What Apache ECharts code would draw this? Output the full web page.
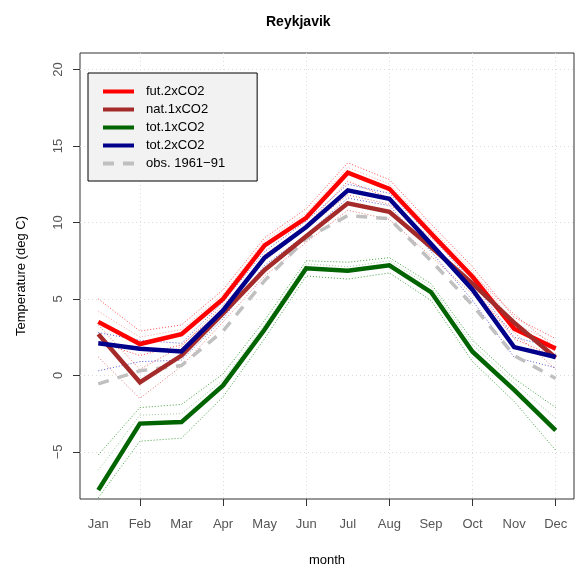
<!DOCTYPE html>
<html>
<head>
<meta charset="utf-8">
<script src="https://cdn.jsdelivr.net/npm/echarts@6/dist/echarts.min.js"></script>
<style>html,body{margin:0;padding:0;background:#fff}#c{width:575px;height:572px}</style>
</head>
<body>
<div id="c"></div>
<script>
var months = ['Jan','Feb','Mar','Apr','May','Jun','Jul','Aug','Sep','Oct','Nov','Dec'];
var yTicks = [-5, 0, 5, 10, 15, 20];
var xTickMonths = [2, 4, 6, 8, 10, 12];

// main series
var fut2xCO2 = [3.5, 2.05, 2.7, 5.0, 8.5, 10.3, 13.25, 12.2, 9.3, 6.45, 3.05, 1.75];
var nat1xCO2 = [2.7, -0.45, 1.3, 4.05, 6.9, 9.1, 11.25, 10.7, 8.4, 6.0, 3.45, 1.15];
var tot1xCO2 = [-7.5, -3.15, -3.05, -0.65, 3.0, 7.0, 6.85, 7.2, 5.45, 1.55, -0.95, -3.6];
var tot2xCO2 = [2.1, 1.75, 1.57, 4.25, 7.7, 9.7, 12.1, 11.55, 8.6, 5.6, 1.85, 1.2];
var obs196191 = [-0.55, 0.3, 0.65, 2.9, 6.2, 8.95, 10.45, 10.25, 7.5, 4.6, 1.3, -0.2];

// ensemble members (dotted)
var futUpper = [5.0, 2.9, 3.3, 5.6, 9.0, 10.9, 13.9, 12.8, 9.9, 7.1, 3.8, 2.4];
var futMid = [4.2, 2.5, 3.0, 5.3, 8.8, 10.6, 13.6, 12.5, 9.6, 6.8, 3.4, 2.1];
var futLower = [2.2, 1.3, 2.0, 4.3, 7.9, 9.8, 12.7, 11.6, 8.6, 5.8, 2.4, 1.2];
var natUpper = [3.3, 0.4, 1.9, 4.6, 7.5, 9.6, 11.8, 11.2, 9.0, 6.6, 4.0, 1.8];
var natLower = [1.2, -1.5, 0.6, 3.5, 6.5, 8.7, 10.8, 10.2, 7.8, 5.3, 2.8, 0.4];
var tot1Upper = [-5.2, -2.1, -1.9, 0.1, 3.6, 7.5, 7.4, 7.7, 6.0, 2.3, -0.2, -2.1];
var tot1Mid = [-6.2, -2.6, -2.5, -0.3, 3.3, 7.3, 7.1, 7.5, 5.8, 2.0, -0.5, -2.8];
var tot1Lower = [-8.0, -4.3, -4.1, -1.4, 2.4, 6.5, 6.3, 6.7, 4.9, 0.9, -1.7, -4.9];
var tot2Upper = [2.8, 2.3, 2.1, 4.8, 8.1, 10.1, 12.5, 11.9, 9.1, 6.1, 2.5, 1.8];
var tot2Lower = [0.3, 0.9, 1.0, 3.7, 7.2, 9.2, 11.6, 11.1, 8.1, 4.9, 1.2, 0.5];

function pts(arr) { return arr.map(function (v, i) { return [i + 1, v]; }); }
function minus(v) { return String(v).replace('-', '\u2212'); }

function member(arr, color) {
  return {
    type: 'line', data: pts(arr), symbol: 'none', silent: true,
    lineStyle: { width: 1, type: [1, 2], color: color }, z: 2
  };
}
function main(name, arr, color, extra) {
  var ls = { width: 4.5, color: color, cap: 'butt', join: 'miter' };
  if (extra) for (var k in extra) ls[k] = extra[k];
  return { type: 'line', name: name, data: pts(arr), symbol: 'none', lineStyle: ls, itemStyle: { color: color }, z: 5 };
}

var chart = echarts.init(document.getElementById('c'), null, { renderer: 'canvas' });
chart.setOption({
  animation: false,
  backgroundColor: '#ffffff',
  textStyle: { fontFamily: 'Liberation Sans, Arial, sans-serif' },
  title: {
    text: 'Reykjavik', left: 261, top: 10,
    textStyle: { fontSize: 14, fontWeight: 'bold', color: '#000', fontFamily: 'Liberation Sans, Arial, sans-serif' }
  },
  grid: { left: 80, right: 1, top: 53, bottom: 73, show: true, borderColor: '#333', borderWidth: 1, backgroundColor: 'transparent' },
  legend: {
    orient: 'vertical', left: 88, top: 73,
    data: ['fut.2xCO2', 'nat.1xCO2', 'tot.1xCO2', 'tot.2xCO2', 'obs. 1961\u221291'],
    backgroundColor: '#f2f2f2', borderColor: '#000', borderWidth: 1, borderRadius: 0,
    padding: [11, 32, 10, 13],
    itemWidth: 31, itemHeight: 14, itemGap: 3,
    itemStyle: { opacity: 0 },
    lineStyle: { width: 4 },
    textStyle: { fontSize: 13, color: '#000', padding: [0, 0, 0, 7], lineHeight: 15, fontFamily: 'Liberation Sans, Arial, sans-serif' }
  },
  xAxis: {
    type: 'value', min: 0.56, max: 12.44,
    name: 'month', nameLocation: 'middle', nameGap: 55,
    nameTextStyle: { fontSize: 13, color: '#000' },
    axisLine: { show: false, onZero: false },
    axisTick: { show: true, length: 7, inside: false, customValues: xTickMonths, lineStyle: { color: '#333' } },
    axisLabel: {
      customValues: months.map(function (m, i) { return i + 1; }),
      formatter: function (v) { return months[Math.round(v) - 1] || ''; },
      fontSize: 13, color: '#555', margin: 19
    },
    splitLine: { show: true, lineStyle: { color: '#dcdcdc', type: [1, 3], width: 1 } }
  },
  yAxis: {
    type: 'value', min: -8.08, max: 21.08,
    name: 'Temperature (deg C)', nameLocation: 'middle', nameGap: 52, nameRotate: 90,
    nameTextStyle: { fontSize: 13, color: '#000' },
    axisLine: { show: false, onZero: false },
    axisTick: { show: true, length: 7, customValues: yTicks, lineStyle: { color: '#333' } },
    axisLabel: { customValues: yTicks, rotate: 90, formatter: minus, fontSize: 13, color: '#555', margin: 15 },
    splitLine: { show: true, lineStyle: { color: '#dcdcdc', type: [1, 3], width: 1 } }
  },
  series: [
    member(futUpper, 'rgba(255,0,0,0.7)'),
    member(futMid, 'rgba(255,60,60,0.5)'),
    member(futLower, 'rgba(255,0,0,0.7)'),
    member(natUpper, 'rgba(220,50,50,0.7)'),
    member(natLower, 'rgba(220,50,50,0.7)'),
    member(tot2Upper, 'rgba(0,0,190,0.65)'),
    member(tot2Lower, 'rgba(0,0,190,0.65)'),
    member(tot1Upper, 'rgba(0,130,0,0.75)'),
    member(tot1Mid, 'rgba(60,150,60,0.5)'),
    member(tot1Lower, 'rgba(0,130,0,0.75)'),
    main('obs. 1961\u221291', obs196191, '#c0c0c0', { type: [11, 9], width: 3.5 }),
    main('fut.2xCO2', fut2xCO2, '#ff0000'),
    main('nat.1xCO2', nat1xCO2, '#a52a2a'),
    main('tot.1xCO2', tot1xCO2, '#006400'),
    main('tot.2xCO2', tot2xCO2, '#00008b')
  ]
});
</script>
</body>
</html>
